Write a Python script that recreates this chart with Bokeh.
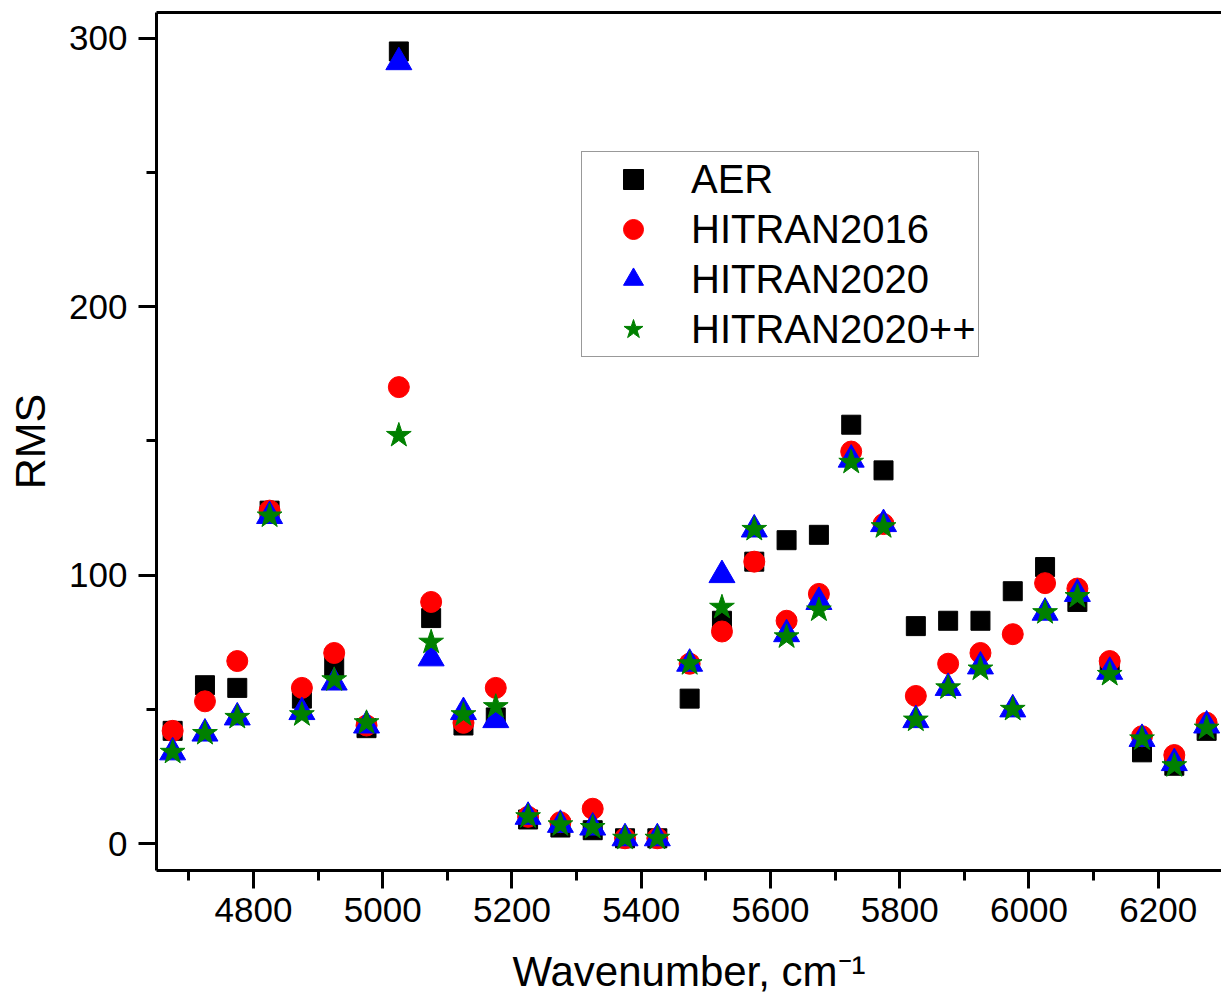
from bokeh.plotting import figure
from bokeh.models import FixedTicker, LinearAxis, Legend, LegendItem, Range1d
from bokeh.embed import file_html
from bokeh.resources import INLINE

# ---- data ----
wavenumber = [4675, 4725, 4775, 4825, 4875, 4925, 4975, 5025, 5075, 5125, 5175,
              5225, 5275, 5325, 5375, 5425, 5475, 5525, 5575, 5625, 5675, 5725,
              5775, 5825, 5875, 5925, 5975, 6025, 6075, 6125, 6175, 6225, 6275]
aer = [42, 59, 58, 124, 54, 66, 43, 295, 84, 44, 47,
       9, 6, 5, 2, 2, 54, 83, 105, 113, 115, 156,
       139, 81, 83, 83, 94, 103, 90, 66, 34, 29, 42]
hitran2016 = [42, 53, 68, 124, 58, 71, 44, 170, 90, 45, 58,
              10, 8, 13, 2, 2, 67, 79, 105, 83, 93, 146,
              119, 55, 67, 71, 78, 97, 95, 68, 40, 33, 45]
hitran2020 = [34, 41, 47, 122, 49, 60, 44, 291, 69, 49, 46,
              10, 7, 6, 2, 2, 67, 100, 117, 78, 90, 143,
              119, 46, 58, 66, 50, 86, 93, 64, 39, 30, 44]
hitran2020pp = [34, 41, 47, 122, 48, 61, 45, 152, 75, 48, 51,
                10, 7, 6, 2, 2, 67, 88, 117, 77, 87, 142,
                118, 46, 58, 65, 50, 86, 92, 63, 39, 29, 43]

x_major = [4800, 5000, 5200, 5400, 5600, 5800, 6000, 6200]
x_minor = [4700, 4900, 5100, 5300, 5500, 5700, 5900, 6100]
y_major = [0, 100, 200, 300]
y_minor = [50, 150, 250]

x_title = "Wavenumber, cm\u207b\u00b9"
y_title = "RMS"

FONT = "Liberation Sans"

p = figure(width=1221, height=1008, output_backend="svg", toolbar_location=None,
           x_range=Range1d(4650, 6298), y_range=Range1d(-10, 309.5),
           min_border_left=156, min_border_right=0, min_border_top=12,
           min_border_bottom=138)
p.outline_line_color = None
p.xgrid.visible = False
p.ygrid.visible = False
p.background_fill_color = "white"
p.border_fill_color = "white"

def style_axis(ax):
    ax.axis_line_width = 3
    ax.axis_line_color = "black"
    ax.major_tick_line_width = 3
    ax.minor_tick_line_width = 3
    ax.major_tick_line_color = "black"
    ax.minor_tick_line_color = "black"
    ax.major_tick_in = 0
    ax.minor_tick_in = 0
    ax.major_tick_out = 18
    ax.minor_tick_out = 10
    ax.major_label_text_font = FONT
    ax.major_label_text_font_size = "35px"
    ax.major_label_text_color = "black"
    ax.axis_label_text_font = FONT
    ax.axis_label_text_font_size = "43px"
    ax.axis_label_text_font_style = "normal"
    ax.axis_label_text_color = "black"

xa = p.xaxis[0]
style_axis(xa)
xa.ticker = FixedTicker(ticks=x_major, minor_ticks=x_minor)
xa.axis_label = x_title
xa.axis_label_text_font_size = "42px"
xa.major_label_standoff = 9
xa.axis_label_standoff = 23

ya = p.yaxis[0]
style_axis(ya)
ya.ticker = FixedTicker(ticks=y_major, minor_ticks=y_minor)
ya.axis_label = y_title
ya.major_label_standoff = 11
ya.axis_label_standoff = 12

top = LinearAxis(ticker=FixedTicker(ticks=[]), major_label_text_font_size="0px",
                 axis_line_width=3, major_tick_out=0, minor_tick_out=0,
                 major_tick_in=0, minor_tick_in=0, major_label_standoff=0)
p.add_layout(top, "above")

r1 = p.scatter(wavenumber, aer, marker="square", size=19, fill_color="black", line_color="black")
r2 = p.scatter(wavenumber, hitran2016, marker="circle", size=21, fill_color="#ff0000", line_color="#ff0000")
r3 = p.scatter(wavenumber, hitran2020, marker="triangle", size=26, fill_color="#0000ff", line_color="#0000ff")
r4 = p.scatter(wavenumber, hitran2020pp, marker="star", size=26, fill_color="#008000", line_color="#008000")

legend = Legend(items=[LegendItem(label="AER", renderers=[r1]),
                       LegendItem(label="HITRAN2016", renderers=[r2]),
                       LegendItem(label="HITRAN2020", renderers=[r3]),
                       LegendItem(label="HITRAN2020++", renderers=[r4])],
                location=(425, 513))
legend.label_text_font = FONT
legend.label_text_font_size = "40px"
legend.label_text_color = "black"
legend.glyph_width = 98
legend.glyph_height = 50
legend.label_height = 50
legend.label_standoff = 9
legend.spacing = 0
legend.padding = 2
legend.margin = 0
legend.border_line_color = "#333333"
legend.border_line_width = 1.5
legend.background_fill_color = "white"
legend.background_fill_alpha = 1.0
p.add_layout(legend)

open("out.html", "w").write(file_html(p, INLINE))
